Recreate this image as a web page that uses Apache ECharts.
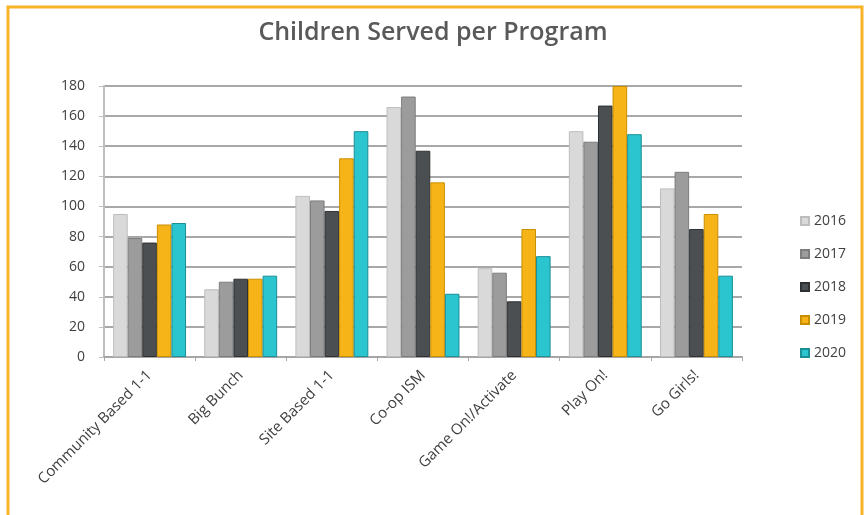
<!DOCTYPE html>
<html>
<head>
<meta charset="utf-8">
<script src="https://cdn.jsdelivr.net/npm/echarts@6/dist/echarts.min.js"></script>
<style>
  html, body { margin: 0; padding: 0; background: #ffffff; }
  #chart { width: 866px; height: 515px; }
</style>
</head>
<body>
<div id="chart"></div>
<script>
const categories = ['Community Based 1-1', 'Big Bunch', 'Site Based 1-1', 'Co-op ISM', 'Game On!/Activate', 'Play On!', 'Go Girls!'];
const years = ['2016', '2017', '2018', '2019', '2020'];
const values2016 = [95, 45, 107, 166, 59, 150, 112];
const values2017 = [79, 50, 104, 173, 56, 143, 123];
const values2018 = [76, 52, 97, 137, 37, 167, 85];
const values2019 = [88, 52, 132, 116, 85, 180, 95];
const values2020 = [89, 54, 150, 42, 67, 148, 54];
const yTicks = [0, 20, 40, 60, 80, 100, 120, 140, 160, 180];

const colors = ['#d9d9d9', '#9c9c9c', '#4b4f52', '#f7b419', '#2bc5cf'];
const borders = ['#bdbdbd', '#7d7d7d', '#2e3133', '#c98f00', '#1a8f96'];
const seriesData = [values2016, values2017, values2018, values2019, values2020];

const font = 'Open Sans';
const chart = echarts.init(document.getElementById('chart'));
chart.setOption({
  backgroundColor: '#ffffff',
  animation: false,
  title: {
    text: 'Children Served per Program',
    left: 'center',
    top: 15,
    textStyle: { fontFamily: font, fontSize: 25, fontWeight: 600, color: '#595959' }
  },
  legend: {
    orient: 'vertical',
    left: 795,
    top: 207,
    itemWidth: 8,
    itemHeight: 8,
    itemGap: 15,
    icon: 'rect',
    data: years,
    textStyle: { fontFamily: font, fontSize: 14, color: '#404040', lineHeight: 18 }
  },
  grid: { left: 104, right: 124, top: 86, bottom: 158, containLabel: false },
  xAxis: {
    type: 'category',
    data: categories,
    axisLine: { show: true, lineStyle: { color: '#a6a6a6', width: 2 } },
    axisTick: { show: true, length: 4, lineStyle: { color: '#a6a6a6' } },
    axisLabel: {
      rotate: 45,
      margin: 16,
      interval: 0,
      fontFamily: font,
      fontSize: 15,
      color: '#404040'
    }
  },
  yAxis: {
    type: 'value',
    min: yTicks[0],
    max: yTicks[yTicks.length - 1],
    interval: 20,
    axisLine: { show: true, lineStyle: { color: '#bfbfbf', width: 2 } },
    axisTick: { show: true, length: 5, lineStyle: { color: '#bfbfbf' } },
    axisLabel: { margin: 19, fontFamily: font, fontSize: 14, color: '#404040' },
    splitLine: { show: true, lineStyle: { color: '#a8a8a8', width: 2 } }
  },
  graphic: [{
    type: 'rect',
    shape: { x: 8, y: 7, width: 854, height: 520 },
    style: { fill: 'none', stroke: '#f9b329', lineWidth: 3 },
    silent: true,
    z: 100
  }],
  series: years.map((y, i) => ({
    name: y,
    type: 'bar',
    data: seriesData[i],
    barGap: '0%',
    barCategoryGap: '20%',
    itemStyle: { color: colors[i], borderColor: borders[i], borderWidth: 1 }
  }))
});
</script>
</body>
</html>
